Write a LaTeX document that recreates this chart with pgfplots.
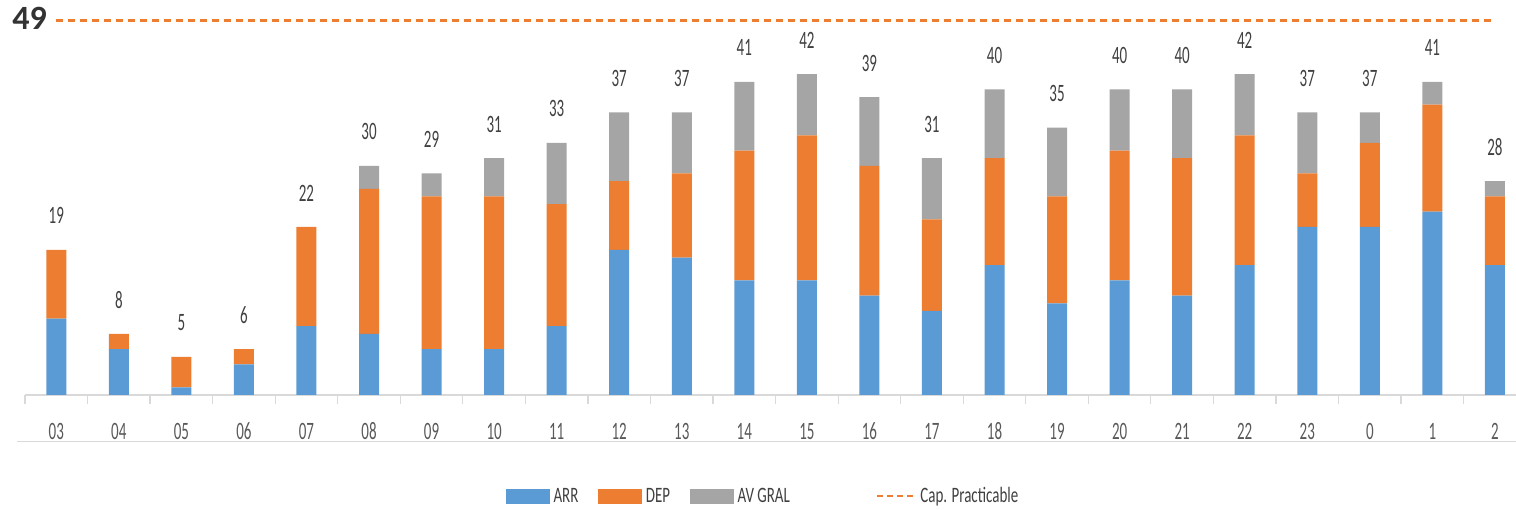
\documentclass[border=0pt]{standalone}
\usepackage{fontspec}
\setmainfont{Carlito}
\newfontfamily\numfont[FakeStretch=0.6]{Carlito}
\newfontfamily\legfont[FakeStretch=0.68]{Carlito}
\usepackage{pgfplots}
\usepackage{pgfplotstable}
\pgfplotsset{compat=1.18}
\definecolor{arr}{HTML}{5B9BD5}
\definecolor{dep}{HTML}{ED7D31}
\definecolor{avg}{HTML}{A5A5A5}
\definecolor{axgray}{HTML}{D9D9D9}
\definecolor{lblgray}{HTML}{595959}
\definecolor{numgray}{HTML}{404040}
\definecolor{darknum}{HTML}{333333}

\pgfplotstableread{
x arr dep av tot
0 10 9 0 19
1 6 2 0 8
2 1 4 0 5
3 4 2 0 6
4 9 13 0 22
5 8 19 3 30
6 6 20 3 29
7 6 20 5 31
8 9 16 8 33
9 19 9 9 37
10 18 11 8 37
11 15 17 9 41
12 15 19 8 42
13 13 17 9 39
14 11 12 8 31
15 17 14 9 40
16 12 14 9 35
17 15 17 8 40
18 13 18 9 40
19 17 17 8 42
20 22 7 8 37
21 22 11 4 37
22 24 14 3 41
23 17 9 2 28
}\datatable

\pgfplotsset{
  base/.style={
    at={(25pt,115pt)}, anchor=south west,
    scale only axis, width=1501.2pt, height=397.2pt,
    xmin=-0.5, xmax=23.5, ymin=0, ymax=52, clip=false,
  }
}

\begin{document}
\begin{tikzpicture}
\begin{axis}[
  base,
  ybar stacked, bar width=20pt,
  axis x line*=bottom, axis y line=none,
  x axis line style={axgray, line width=1.6pt, -},
  xtick={0,...,23},
  xticklabels={03,04,05,06,07,08,09,10,11,12,13,14,15,16,17,18,19,20,21,22,23,0,1,2},
  major x tick style={draw=none},
  minor xtick={-0.5,0.5,...,23.5},
  minor x tick style={axgray, line width=1.2pt},
  minor tick length=9pt, tick align=outside,
  xticklabel style={font=\numfont\fontsize{25}{30}\selectfont, text=lblgray, anchor=center, yshift=-32pt},
  legend columns=4,
  legend style={at={(0.3204,-0.2543)}, anchor=west, draw=none, fill=none, inner sep=0pt,
    font=\legfont\fontsize{22}{26}\selectfont, text=numgray, column sep=0pt,
    /tikz/every odd column/.append style={column sep=2pt},
    /tikz/every even column/.append style={column sep=18pt}},
  legend cell align=left,
]
\addplot[fill=arr, draw=none, forget plot] table[x=x, y=arr] {\datatable};
\addplot[fill=dep, draw=none, forget plot] table[x=x, y=dep] {\datatable};
\addplot[fill=avg, draw=none, forget plot] table[x=x, y=av] {\datatable};
\addlegendimage{legend image code/.code={\fill[arr] (0pt,-7pt) rectangle (43pt,7pt);}}
\addlegendentry{ARR}
\addlegendimage{legend image code/.code={\fill[dep] (0pt,-7pt) rectangle (43pt,7pt);}}
\addlegendentry{DEP}
\addlegendimage{legend image code/.code={\fill[avg] (0pt,-7pt) rectangle (43pt,7pt);}}
\addlegendentry{AV GRAL\rule{66pt}{0pt}}
\addlegendimage{legend image code/.code={\draw[dep, line width=2.5pt, dash pattern=on 6pt off 4pt] (0pt,0pt) -- (38pt,0pt);}}
\addlegendentry{Cap. Practicable}
\end{axis}
\begin{axis}[base, hide axis]
\addplot[dep, line width=2.5pt, dash pattern=on 7pt off 5pt] coordinates {(0,49) (23,49)};
\node[anchor=east, xshift=-6pt, yshift=2.4pt, font=\bfseries\fontsize{34}{40}\selectfont, text=darknum] at (axis cs:0,49) {49};
\end{axis}
\begin{axis}[base, hide axis]
\addplot[draw=none, mark=none, point meta=explicit symbolic,
  nodes near coords={\numfont\fontsize{25}{30}\selectfont\pgfplotspointmeta},
  every node near coord/.append style={text=numgray, anchor=center, yshift=34pt}]
  table[x=x, y=tot, meta=tot] {\datatable};
\end{axis}
\draw[axgray, line width=1.5pt] (17pt,68.3pt) -- (1516pt,68.3pt);
\pgfresetboundingbox
\useasboundingbox (0pt,0pt) rectangle (1516pt,510pt);
\end{tikzpicture}
\end{document}
